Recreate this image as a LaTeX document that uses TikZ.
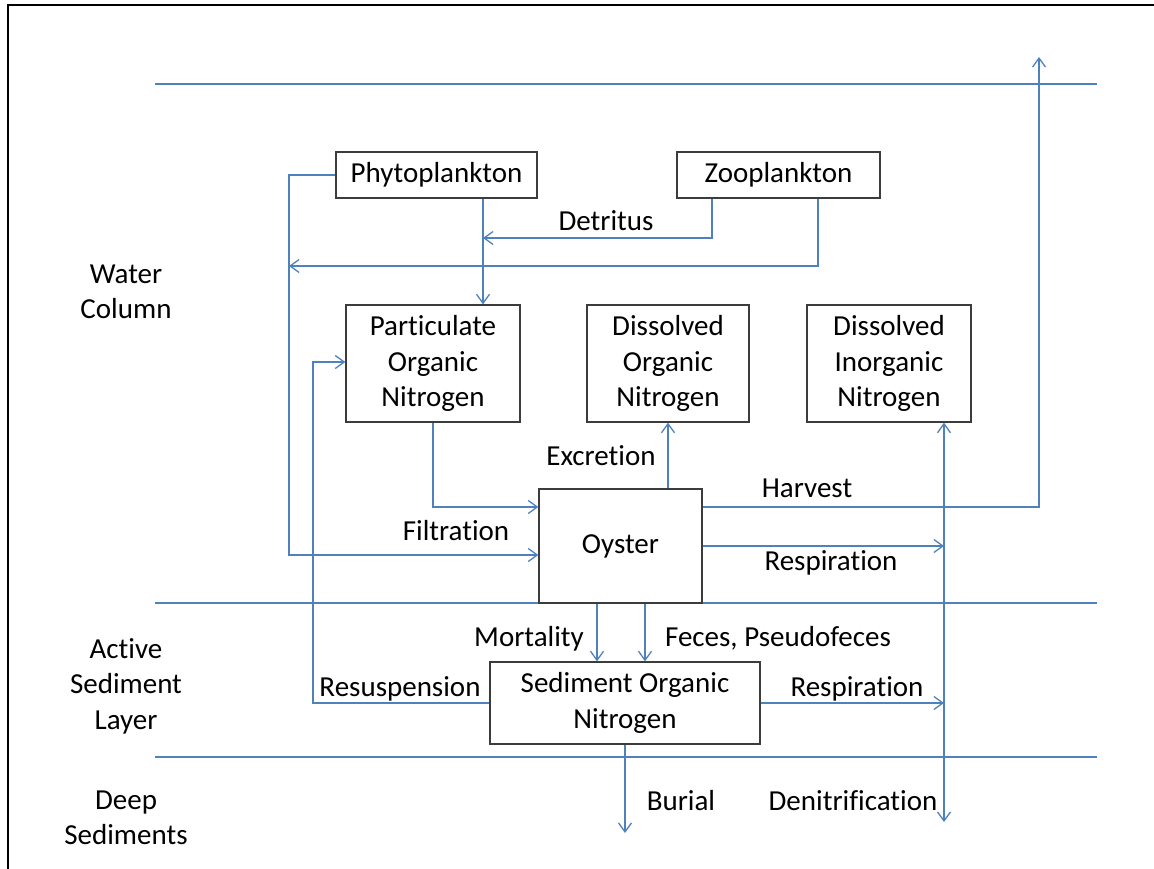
\documentclass[tikz,border=0pt]{standalone}
\usepackage{fontspec}
\setmainfont{Carlito}[Ligatures={NoCommon}]
\usetikzlibrary{arrows.meta}
\definecolor{flow}{RGB}{79,129,189}
\definecolor{edge}{RGB}{60,60,60}
\begin{document}
\begin{tikzpicture}[x=1pt,y=-1pt,
  every node/.append style={font=\fontsize{29}{35.5}\selectfont},
  box/.style={draw=edge,line width=1.3pt,align=center,inner sep=0pt},
  lbl/.style={align=center,inner sep=0pt,text height=18pt,text depth=0pt},
  zone/.style={align=center,inner sep=0pt},
  flowline/.style={draw=flow,line width=1.3pt},
  tip/.tip={Straight Barb[length=9pt,width=13pt,line width=1.3pt]},
  arr/.style={flowline,-tip},
  arrboth/.style={flowline,tip-tip}]
\useasboundingbox (0,0) rectangle (1154,869);

% outer frame
\draw[line width=2.5pt] (8,872) -- (8,5) -- (1157,5);

% layer boundaries
\draw[flowline] (155,84) -- (1097,84);
\draw[flowline] (155,603) -- (1097,603);
\draw[flowline] (155,757) -- (1097,757);

% layer names
\node[zone] (water) at (126,292) {Water\\Column};
\node[zone] (active) at (126,686) {Active\\Sediment\\Layer};
\node[zone] (deep) at (126,818) {Deep\\Sediments};

% pools
\node[box,minimum width=201pt,minimum height=46pt] (phyto) at (436.5,175) {Phytoplankton};
\node[box,minimum width=203pt,minimum height=46pt] (zoo) at (778.5,175) {Zooplankton};
\node[box,minimum width=174pt,minimum height=117pt] (pon) at (433,363.5) {Particulate\\Organic\\Nitrogen};
\node[box,minimum width=162pt,minimum height=117pt] (don) at (668,363.5) {Dissolved\\Organic\\Nitrogen};
\node[box,minimum width=164pt,minimum height=117pt] (din) at (889,363.5) {Dissolved\\Inorganic\\Nitrogen};
\node[box,minimum width=163pt,minimum height=114pt] (oyster) at (620.5,546) {Oyster};
\node[box,minimum width=270pt,minimum height=82pt] (sed) at (625,703) {Sediment Organic\\Nitrogen};

% helper points for the routed flows
\coordinate (detr) at (483,238);
\coordinate (zooleft) at (289,266);
\coordinate (filtcorner) at (289,555);
\coordinate (harvtop) at (1039,57);
\coordinate (resp1) at (944,546);
\coordinate (resp2) at (944,703);
\coordinate (denbot) at (944,822);
\coordinate (resuscorner) at (313,362);
\coordinate (burial) at (625,833);

% flows
\draw[arr] (phyto.south -| detr) -- (pon.north -| detr);
\draw[arr] (zoo.south -| 712,0) |- (detr);
\draw[arr] (zoo.south -| 818,0) |- (zooleft);
\draw[arr] (phyto.west) -| (filtcorner) -- (filtcorner -| oyster.west);
\draw[arr] (pon.south) |- (oyster.west |- 0,507);
\draw[arr] (oyster.north -| don.south) -- (don.south);
\draw[arr] (oyster.east |- 0,507) -| (harvtop);
\draw[arr] (oyster.east |- resp1) -- (resp1);
\draw[arrboth] (din.south -| denbot) -- (denbot);
\draw[arr] (oyster.south -| 597,0) -- (sed.north -| 597,0);
\draw[arr] (oyster.south -| 645,0) -- (sed.north -| 645,0);
\draw[arr] (sed.east) -- (resp2);
\draw[arr] (sed.west) -| (resuscorner) -- (resuscorner -| pon.west);
\draw[arr] (sed.south) -- (burial);

% flow labels
\node[lbl] (ldetr) at (606,222) {Detritus};
\node[lbl] (lfilt) at (456,531) {Filtration};
\node[lbl] (lexcr) at (601,456) {Excretion};
\node[lbl] (lharv) at (807,488) {Harvest};
\node[lbl] (lresp1) at (831,561) {Respiration};
\node[lbl] (lmort) at (529,637) {Mortality};
\node[lbl] (lfec) at (778,637) {Feces, Pseudofeces};
\node[lbl] (lresp2) at (857,687) {Respiration};
\node[lbl] (lresus) at (400,687) {Resuspension};
\node[lbl] (lbur) at (681,801) {Burial};
\node[lbl] (lden) at (853,801) {Denitrification};
\end{tikzpicture}
\end{document}
